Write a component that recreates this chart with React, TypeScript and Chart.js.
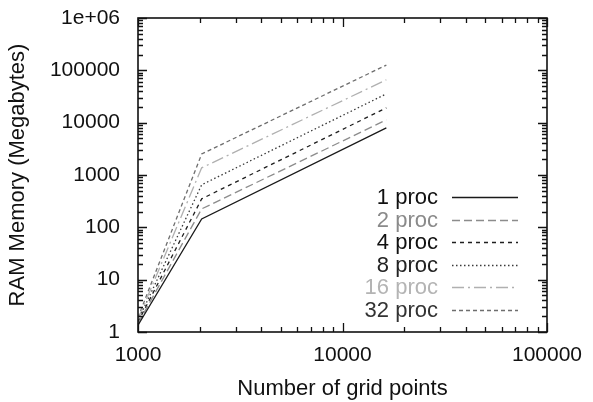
import { useEffect, useRef } from "react";
import { Chart, registerables } from "chart.js";

Chart.register(...registerables);

// Problem size (x) and memory use per run (y, MB)
const gridPoints = [1000, 2048, 16384];
const proc1 = [1.35, 145, 7950];
const proc2 = [1.45, 225, 11300];
const proc4 = [1.55, 350, 19200];
const proc8 = [1.65, 650, 35500];
const proc16 = [1.75, 1370, 66000];
const proc32 = [1.9, 2520, 126000];

const seriesNames = ["1 proc", "2 proc", "4 proc", "8 proc", "16 proc", "32 proc"];
const seriesValues = [proc1, proc2, proc4, proc8, proc16, proc32];

const xTickValues = [1000, 10000, 100000];
const xTickLabels = ["1000", "10000", "100000"];
const yTickValues = [1, 10, 100, 1000, 10000, 100000, 1000000];
const yTickLabels = ["1", "10", "100", "1000", "10000", "100000", "1e+06"];

const lineColors = ["#1a1a1a", "#8c8c8c", "#1f1f1f", "#3a3a3a", "#b0b0b0", "#6e6e6e"];
const textColors = ["#111111", "#8a8a8a", "#111111", "#222222", "#b4b4b4", "#333333"];
const dashes: number[][] = [[], [8, 4], [4, 4], [1.5, 2.5], [12, 4, 2, 4], [4, 3]];

const FONT = "Liberation Sans, Arial, Helvetica, sans-serif";

// Boxed frame with inward major/minor tick marks on all four sides
const framePlugin = {
  id: "frame",
  afterDatasetsDraw(chart: any) {
    const { ctx, chartArea, scales } = chart;
    const { left, right, top, bottom } = chartArea;
    const xs = scales.x;
    const ys = scales.y;
    ctx.save();
    ctx.strokeStyle = "#111";
    ctx.lineWidth = 1.6;
    ctx.setLineDash([]);
    ctx.strokeRect(left, top, right - left, bottom - top);
    ctx.lineWidth = 1.3;
    for (let d = xs.min; d <= xs.max; d *= 10) {
      for (let m = 1; m <= 9; m++) {
        const v = d * m;
        if (v > xs.max + 1e-6) break;
        const px = Math.round(xs.getPixelForValue(v)) + 0.5;
        const len = m === 1 ? 9 : 5;
        ctx.beginPath();
        ctx.moveTo(px, bottom);
        ctx.lineTo(px, bottom - len);
        ctx.moveTo(px, top);
        ctx.lineTo(px, top + len);
        ctx.stroke();
      }
    }
    for (let d = ys.min; d <= ys.max; d *= 10) {
      for (let m = 1; m <= 9; m++) {
        const v = d * m;
        if (v > ys.max * 1.0001) break;
        const py = Math.round(ys.getPixelForValue(v)) + 0.5;
        const len = m === 1 ? 9 : 5;
        ctx.beginPath();
        ctx.moveTo(left, py);
        ctx.lineTo(left + len, py);
        ctx.moveTo(right, py);
        ctx.lineTo(right - len, py);
        ctx.stroke();
      }
    }
    ctx.restore();
  },
};

// Key in the lower right of the plot: label, then a line sample
const keyPlugin = {
  id: "key",
  afterDraw(chart: any) {
    const { ctx, chartArea } = chart;
    const textRight = chartArea.right - 109;
    const lineStart = chartArea.right - 95;
    const lineEnd = chartArea.right - 29;
    const firstRow = chartArea.bottom - 135;
    const rowGap = 22.6;
    ctx.save();
    ctx.font = `22px ${FONT}`;
    ctx.textAlign = "right";
    ctx.textBaseline = "middle";
    chart.data.datasets.forEach((ds: any, i: number) => {
      const y = firstRow + i * rowGap;
      ctx.fillStyle = textColors[i];
      ctx.fillText(ds.label, textRight, y + 1);
      ctx.strokeStyle = ds.borderColor;
      ctx.lineWidth = ds.borderWidth;
      ctx.setLineDash(ds.borderDash || []);
      ctx.beginPath();
      ctx.moveTo(lineStart, Math.round(y) + 0.5);
      ctx.lineTo(lineEnd, Math.round(y) + 0.5);
      ctx.stroke();
    });
    ctx.restore();
  },
};

export default function App() {
  const canvasRef = useRef<HTMLCanvasElement | null>(null);

  useEffect(() => {
    const canvas = canvasRef.current;
    if (!canvas) return;
    const chart = new Chart(canvas, {
      type: "line",
      data: {
        datasets: seriesNames.map((name, i) => ({
          label: name,
          data: gridPoints.map((g, k) => ({ x: g, y: seriesValues[i][k] })),
          borderColor: lineColors[i],
          borderWidth: 1.3,
          borderDash: dashes[i],
          pointRadius: 0,
          tension: 0,
          fill: false,
        })),
      },
      options: {
        animation: false,
        responsive: false,
        devicePixelRatio: 1,
        layout: { padding: { left: 0, top: 18, right: 46, bottom: 0 } },
        plugins: {
          legend: { display: false },
          tooltip: { enabled: false },
        },
        scales: {
          x: {
            type: "logarithmic",
            min: 1000,
            max: 100000,
            afterBuildTicks: (s: any) => {
              s.ticks = xTickValues.map((v) => ({ value: v }));
            },
            afterFit: (s: any) => {
              s.height = 70;
              s.paddingLeft = 0;
              s.paddingRight = 0;
            },
            grid: { display: false, drawTicks: false },
            border: { display: false },
            ticks: {
              padding: 11,
              color: "#111",
              font: { family: FONT, size: 21 },
              maxRotation: 0,
              autoSkip: false,
              callback: (v: any) => {
                const idx = xTickValues.indexOf(Number(v));
                return idx >= 0 ? xTickLabels[idx] : "";
              },
            },
            title: {
              display: true,
              text: "Number of grid points",
              color: "#111",
              font: { family: FONT, size: 22 },
              padding: { top: 0, bottom: 0 },
            },
          },
          y: {
            type: "logarithmic",
            min: 1,
            max: 1000000,
            afterBuildTicks: (s: any) => {
              s.ticks = yTickValues.map((v) => ({ value: v }));
            },
            afterFit: (s: any) => {
              s.width = 138;
              s.paddingTop = 0;
              s.paddingBottom = 0;
            },
            grid: { display: false, drawTicks: false },
            border: { display: false },
            ticks: {
              padding: 18,
              color: "#111",
              font: { family: FONT, size: 21 },
              autoSkip: false,
              callback: (v: any) => {
                const idx = yTickValues.indexOf(Number(v));
                return idx >= 0 ? yTickLabels[idx] : "";
              },
            },
            title: {
              display: true,
              text: "RAM Memory (Megabytes)",
              color: "#111",
              font: { family: FONT, size: 22 },
              padding: { top: 5, bottom: 0 },
            },
          },
        },
      },
      plugins: [framePlugin, keyPlugin],
    } as any);
    return () => chart.destroy();
  }, []);

  return (
    <div style={{ position: "absolute", left: 0, top: 0, width: 593, height: 402, background: "#fff" }}>
      <canvas ref={canvasRef} width={593} height={402} />
    </div>
  );
}
